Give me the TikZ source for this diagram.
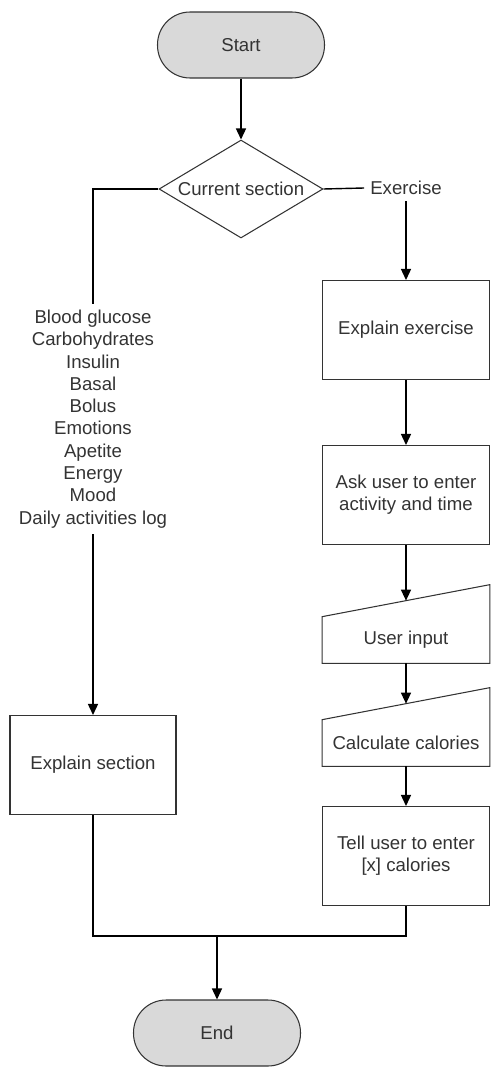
\documentclass[tikz,border=0pt]{standalone}
\usepackage{fontspec}
\setmainfont{Liberation Sans}
\usetikzlibrary{positioning, arrows.meta, shapes.geometric}

\begin{document}
\begin{tikzpicture}[x=0.02cm, y=-0.02cm,
    font=\fontsize{10.6}{12.7}\selectfont, text=black!80,
    term/.style={draw=black!80, semithick, fill=black!15, rounded corners=0.65cm,
      minimum width=3.34cm, minimum height=1.32cm},
    box/.style={draw=black!80, semithick, minimum width=3.34cm, minimum height=1.98cm, align=center},
    inbox/.style={minimum width=3.34cm, minimum height=0.92cm},
    flow/.style={thick, -{Triangle[length=0.22cm,width=0.2cm]}}]
    \useasboundingbox (0,0) rectangle (493,1068);
    \node[term] (start) at (241,45) {Start};
    \node[draw=black!80, semithick, diamond, aspect=1.67, inner sep=0pt,
      minimum width=3.28cm, minimum height=1.96cm] (cur) at (241,189) {Current section};
    \node (exer) at (406,188) {Exercise};
    \node[box] (expex) at (406,330) {Explain exercise};
    \node[box] (ask) at (406,495) {Ask user to enter\\activity and time};
    \node[inbox] (uin) at (406,640) {User input};
    \draw[black!80, semithick] (uin.south west) -- (uin.north west)
      -- ([yshift=0.64cm]uin.north east) -- (uin.south east) -- cycle;
    \node[inbox] (calc) at (406,743) {Calculate calories};
    \draw[black!80, semithick] (calc.south west) -- (calc.north west)
      -- ([yshift=0.64cm]calc.north east) -- (calc.south east) -- cycle;
    \node[box] (tell) at (406,856) {Tell user to enter\\{[x]} calories};
    \node[align=center] (lst) at (93,419) {Blood glucose\\Carbohydrates\\Insulin\\Basal\\Bolus\\
      Emotions\\Apetite\\Energy\\Mood\\Daily activities log};
    \node[box, minimum width=3.32cm] (expsec) at (93,765) {Explain section};
    \node[term] (stop) at (217,1033) {End};
    \coordinate (join) at (217,936);

    \draw[flow] (start) -- (cur);
    \draw[thick] (cur.west) -| (lst.north);
    \draw[flow] (lst.south) -- (expsec.north);
    \draw[thick] (cur.east) -- (exer.west);
    \draw[flow] (exer.south) -- (expex.north);
    \draw[flow] (expex) -- (ask);
    \draw[flow] (ask.south) -- ([yshift=0.32cm]uin.north);
    \draw[flow] (uin.south) -- ([yshift=0.32cm]calc.north);
    \draw[flow] (calc.south) -- (tell.north);
    \draw[thick] (expsec.south) |- (join);
    \draw[thick] (tell.south) |- (join);
    \draw[flow] (join) -- (stop.north);
\end{tikzpicture}
\end{document}
